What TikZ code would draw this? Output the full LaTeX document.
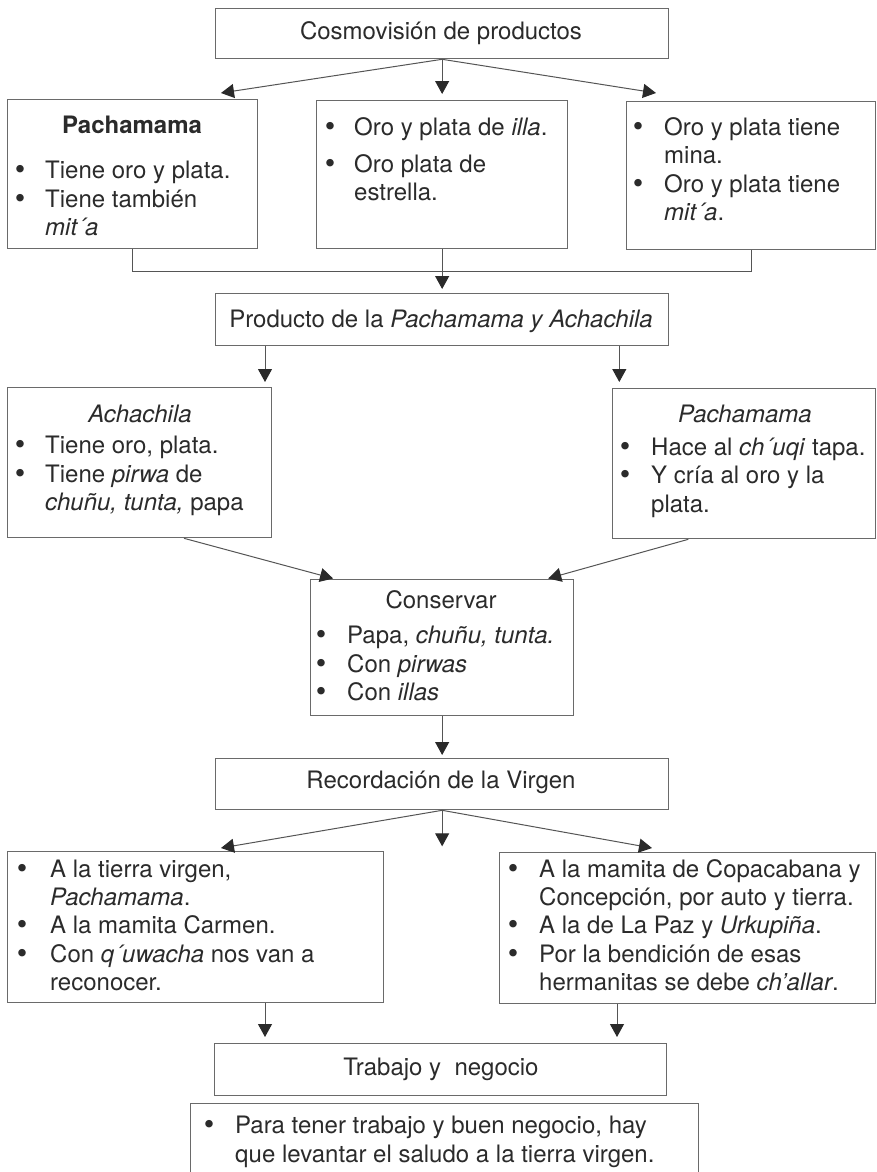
\documentclass[tikz,border=0pt]{standalone}
\usepackage{fontspec}
\setmainfont{TeX Gyre Heros}
\usetikzlibrary{arrows.meta,calc}
\definecolor{ink}{HTML}{2B2B2B}
\definecolor{frame}{HTML}{6A6A6A}
\definecolor{wire}{HTML}{555555}
\definecolor{tip}{HTML}{2A2A2A}
\tikzset{
  box/.style={draw=frame, line width=1.3pt, inner sep=0pt, anchor=north west, fill=white},
  ln/.style={anchor=base west, inner sep=0pt, text=ink, font=\fontsize{24}{28}\selectfont},
  ctr/.style={anchor=base, inner sep=0pt, text=ink, font=\fontsize{24}{28}\selectfont},
  bul/.style={anchor=base, inner sep=0pt, text=ink, font=\fontsize{30}{30}\selectfont, yshift=-1.5pt},
  conn/.style={draw=wire, line width=1pt},
  arr/.style={conn, -{Triangle[length=13pt,width=14pt,fill=tip,color=tip]}}
}
\begin{document}
\begin{tikzpicture}[x=1pt,y=-1pt]
\clip (0,0) rectangle (876,1172);
\fill[white] (0,0) rectangle (876,1172);

% ---- boxes ----
\node[box, minimum width=453pt, minimum height=50pt] (top) at (215,8) {};
\node[box, minimum width=250pt, minimum height=149pt] (L1) at (7,99) {};
\node[box, minimum width=251pt, minimum height=148pt] (M1) at (316,100) {};
\node[box, minimum width=249pt, minimum height=148pt] (R1) at (626,101) {};
\node[box, minimum width=453pt, minimum height=52pt] (P) at (215,293) {};
\node[box, minimum width=264pt, minimum height=150pt] (A) at (7,387) {};
\node[box, minimum width=263pt, minimum height=150pt] (Q) at (612,388) {};
\node[box, minimum width=263pt, minimum height=136pt] (C) at (310,579) {};
\node[box, minimum width=453pt, minimum height=51pt] (V) at (215,758) {};
\node[box, minimum width=376pt, minimum height=151pt] (BL) at (7,851) {};
\node[box, minimum width=376pt, minimum height=151pt] (BR) at (499,852) {};
\node[box, minimum width=452pt, minimum height=52pt] (T) at (214,1043) {};
\node[box, minimum width=508pt, minimum height=100pt] (F) at (190,1103) {};

% ---- texts ----
\node[ctr] (t0) at (441,40) {Cosmovisión de productos};

\node[ctr] (l1h) at (132,133) {\textbf{Pachamama}};
\node[bul] (l1b1) at (20,178) {\textbullet};
\node[bul] (l1b2) at (20,207) {\textbullet};
\node[ln] (l1a) at (45,178) {Tiene oro y plata.};
\node[ln] (l1b) at (45,207) {Tiene también};
\node[ln] (l1c) at (45,235) {\textit{mit´a}};

\node[bul] (m1b1) at (330,135) {\textbullet};
\node[bul] (m1b2) at (330,172) {\textbullet};
\node[ln] (m1a) at (354,135) {Oro y plata de \textit{illa}.};
\node[ln] (m1b) at (354,172) {Oro plata de};
\node[ln] (m1c) at (354,200) {estrella.};

\node[bul] (r1b1) at (638,135) {\textbullet};
\node[bul] (r1b2) at (638,192) {\textbullet};
\node[ln] (r1a) at (664,135) {Oro y plata tiene};
\node[ln] (r1b) at (664,163) {mina.};
\node[ln] (r1c) at (664,192) {Oro y plata tiene};
\node[ln] (r1d) at (664,220) {\textit{mit´a}.};

\node[ctr] (tp) at (441,327) {Producto de la \textit{Pachamama y Achachila}};

\node[ctr] (ah) at (140,422) {\textit{Achachila}};
\node[bul] (ab1) at (20,453) {\textbullet};
\node[bul] (ab2) at (20,482) {\textbullet};
\node[ln] (aa) at (45,453) {Tiene oro, plata.};
\node[ln] (ab) at (45,482) {Tiene \textit{pirwa} de};
\node[ln] (ac) at (45,510) {\textit{chuñu, tunta,} papa};

\node[ctr] (qh) at (745,422) {\textit{Pachamama}};
\node[bul] (qb1) at (625,455) {\textbullet};
\node[bul] (qb2) at (625,483) {\textbullet};
\node[ln] (qa) at (651,455) {Hace al \textit{ch´uqi} tapa.};
\node[ln] (qb) at (651,483) {Y cría al oro y la};
\node[ln] (qc) at (651,512) {plata.};

\node[ctr] (ch) at (441,608) {Conservar};
\node[bul] (cb1) at (321,643) {\textbullet};
\node[bul] (cb2) at (321,672) {\textbullet};
\node[bul] (cb3) at (321,700) {\textbullet};
\node[ln] (ca) at (347,643) {Papa, \textit{chuñu, tunta.}};
\node[ln] (cb) at (347,672) {Con \textit{pirwas}};
\node[ln] (cc) at (347,700) {Con \textit{illas}};

\node[ctr] (tv) at (441,788) {Recordación de la Virgen};

\node[bul] (blb1) at (22,877) {\textbullet};
\node[bul] (blb2) at (22,933) {\textbullet};
\node[bul] (blb3) at (22,962) {\textbullet};
\node[ln] (bla) at (50,877) {A la tierra virgen,};
\node[ln] (blb) at (50,905) {\textit{Pachamama}.};
\node[ln] (blc) at (50,933) {A la mamita Carmen.};
\node[ln] (bld) at (50,962) {Con \textit{q´uwacha} nos van a};
\node[ln] (ble) at (50,990) {reconocer.};

\node[bul] (brb1) at (513,877) {\textbullet};
\node[bul] (brb2) at (513,933) {\textbullet};
\node[bul] (brb3) at (513,962) {\textbullet};
\node[ln] (bra) at (539,877) {A la mamita de Copacabana y};
\node[ln] (brb) at (539,905) {Concepción, por auto y tierra.};
\node[ln] (brc) at (539,933) {A la de La Paz y \textit{Urkupiña}.};
\node[ln] (brd) at (539,962) {Por la bendición de esas};
\node[ln] (bre) at (539,990) {hermanitas se debe \textit{ch’allar}.};

\node[ctr] (tt) at (441,1075) {Trabajo y\ \ negocio};

\node[bul] (fb1) at (209,1133) {\textbullet};
\node[ln] (fa) at (235,1133) {Para tener trabajo y buen negocio, hay};
\node[ln] (fb) at (235,1162) {que levantar el saludo a la tierra virgen.};

% ---- connectors ----
\draw[arr] (top.south) -- ([shift={(214,-6)}]L1.north west);
\draw[arr] (top.south) -- ([shift={(0,-6)}]M1.north);
\draw[arr] (top.south) -- ([shift={(30,-8)}]R1.north west);

\draw[conn] (L1.south) -- ++(0,22) -| (R1.south);
\draw[arr] (M1.south) -- ([shift={(0,-4)}]P.north);

\draw[arr, shorten >=5pt] ([xshift=50pt]P.south west) coordinate (pl) -- (pl |- A.north);
\draw[arr, shorten >=6pt] ([xshift=-50pt]P.south east) coordinate (pr) -- (pr |- Q.north);

\draw[arr, shorten >=2pt] ([xshift=177pt]A.south west) -- ([xshift=25pt]C.north west);
\draw[arr, shorten >=2pt] ([xshift=-188pt]Q.south east) -- ([xshift=-28pt]C.north east);

\draw[arr, shorten >=3pt] (C.south) -- (V.north);

\coordinate (vmid) at ([yshift=-36pt]V.south);
\draw[arr] (V.south) -- ([shift={(214,-3)}]BL.north west);
\draw[arr] (V.south) -- (vmid);
\draw[arr] (V.south) -- ([shift={(153,-4)}]BR.north west);

\draw[arr, shorten >=6pt] ([xshift=258pt]BL.south west) coordinate (bl) -- (bl |- T.north);
\draw[arr, shorten >=6pt] ([xshift=118pt]BR.south west) coordinate (br) -- (br |- T.north);
\end{tikzpicture}
\end{document}
